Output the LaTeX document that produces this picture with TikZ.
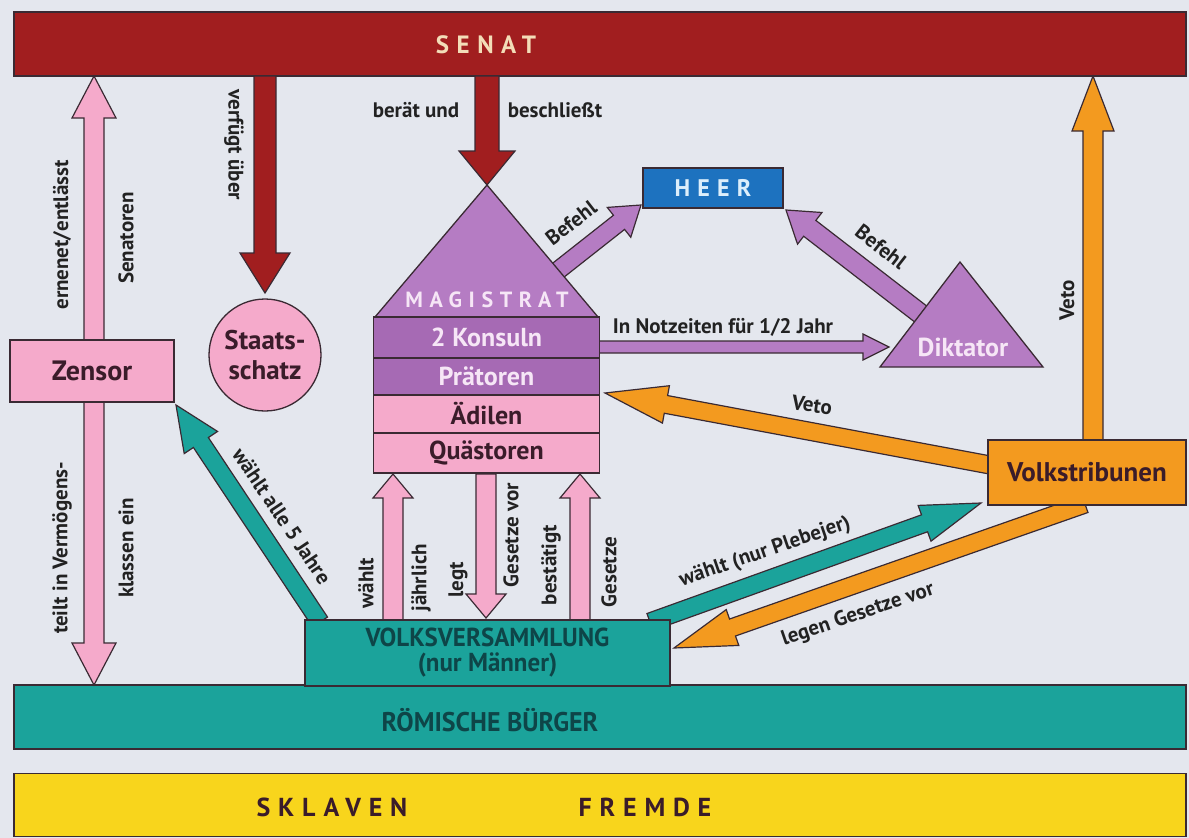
\documentclass[tikz,border=0pt]{standalone}
\usepackage{fontspec}
\setmainfont{PT Sans}
\newfontfamily\spaced[LetterSpace=30]{PT Sans}
\newfontfamily\condensed[FakeStretch=0.96]{PT Sans}
\usetikzlibrary{calc}
\definecolor{bgcol}{HTML}{E4E7EE}
\definecolor{senatred}{HTML}{A11E1F}
\definecolor{senattext}{HTML}{F3DDB8}
\definecolor{pinkfill}{HTML}{F5AACB}
\definecolor{purpfill}{HTML}{B57CC3}
\definecolor{purpdark}{HTML}{A66AB4}
\definecolor{lighttext}{HTML}{F6E6F6}
\definecolor{tealfill}{HTML}{1BA39B}
\definecolor{tealtext}{HTML}{0E4548}
\definecolor{orangefill}{HTML}{F39A1F}
\definecolor{bluefill}{HTML}{1D72BF}
\definecolor{heertext}{HTML}{DCEEFB}
\definecolor{yellowfill}{HTML}{F8D51C}
\definecolor{edge}{HTML}{3A2A33}
\definecolor{labeltext}{HTML}{222222}
\definecolor{darktext}{HTML}{3A1C2A}
\newcommand\fsz[2]{\fontsize{#1}{#2}\selectfont}
% block arrow: [style]{from}{to}{shaft half}{head half}{head length}
\newcommand\blockarrow[6][]{%
  \coordinate (ba-s) at (#2);
  \coordinate (ba-e) at (#3);
  \coordinate (ba-h) at ($(ba-e)!#6!(ba-s)$);
  \draw[arr,#1] ($(ba-s)!#4!90:(ba-e)$) -- ($(ba-h)!#4!-90:(ba-s)$) -- ($(ba-h)!#5!-90:(ba-s)$) -- (ba-e) -- ($(ba-h)!#5!90:(ba-s)$) -- ($(ba-h)!#4!90:(ba-s)$) -- ($(ba-s)!#4!-90:(ba-e)$) -- cycle;
}
\newcommand\dblarrow[6][]{%
  \coordinate (da-s) at (#2);
  \coordinate (da-e) at (#3);
  \coordinate (da-h1) at ($(da-s)!#6!(da-e)$);
  \coordinate (da-h2) at ($(da-e)!#6!(da-s)$);
  \draw[arr,#1] (da-s) -- ($(da-h1)!#5!90:(da-e)$) -- ($(da-h1)!#4!90:(da-e)$) -- ($(da-h2)!#4!-90:(da-s)$) -- ($(da-h2)!#5!-90:(da-s)$) -- (da-e) -- ($(da-h2)!#5!90:(da-s)$) -- ($(da-h2)!#4!90:(da-s)$) -- ($(da-h1)!#4!-90:(da-e)$) -- ($(da-h1)!#5!-90:(da-e)$) -- cycle;
}
\begin{document}
\begin{tikzpicture}[x=1pt,y=-1pt,
  arr/.style={draw=edge, line width=1.2pt, line join=miter},
  rectbox/.style={draw=edge, line width=1.3pt, inner sep=0pt, outer sep=0pt},
  lbl/.style={font=\bfseries\fsz{21}{23}, text=labeltext, inner sep=0pt},
  row/.style={rectbox, minimum width=226pt, font=\bfseries\fsz{26}{28}}
]
\useasboundingbox (0,0) rectangle (1189,838);
\fill[bgcol] (0,0) rectangle (1189,838);

% big bars
\node[rectbox, fill=senatred, minimum width=1172pt, minimum height=64pt] (senat) at (600,44) {};
\node[font=\spaced\bfseries\fsz{25}{27}, text=senattext, inner sep=0pt] (senatlabel) at (486,45) {SENAT};
\node[rectbox, fill=tealfill, minimum width=1172pt, minimum height=64pt] (buerger) at (600,717) {};
\node[font=\condensed\bfseries\fsz{27}{29}, text=tealtext, inner sep=0pt] (buergerlabel) at (490,720) {RÖMISCHE BÜRGER};
\node[rectbox, fill=yellowfill, minimum width=1172pt, minimum height=63pt] (sklavenbar) at (600,805) {};
\node[font=\spaced\bfseries\fsz{26}{28}, text=darktext, inner sep=0pt] (sklaven) at (332,807) {SKLAVEN};
\node[font=\spaced\bfseries\fsz{26}{28}, text=darktext, inner sep=0pt] (fremde) at (645,807) {FREMDE};

% positions of boxes (coordinates used by arrows)
\coordinate (magapex) at (487,185);
\coordinate (dikapex) at (960,262);

% arrows
\dblarrow[fill=pinkfill]{senat.south -| 94,0}{buerger.north -| 94,0}{10pt}{22pt}{42pt}
\blockarrow[fill=senatred]{senat.south -| 265,0}{265,293}{11pt}{25pt}{40pt}
\blockarrow[fill=senatred]{senat.south -| magapex}{magapex}{12pt}{28pt}{34pt}
\blockarrow[fill=purpfill]{556,272}{641,205}{9pt}{19pt}{28pt}
\blockarrow[fill=purpfill]{922,315}{786,210}{10pt}{20pt}{30pt}
\blockarrow[fill=purpfill]{590,347}{889,347}{6pt}{13pt}{26pt}
\blockarrow[fill=orangefill]{1093,442}{senat.south -| 1093,0}{10pt}{21pt}{55pt}
\blockarrow[fill=orangefill]{990,465}{605,393}{9pt}{19pt}{62pt}
\blockarrow[fill=tealfill]{650,622}{981,503}{9pt}{19pt}{60pt}
\blockarrow[fill=orangefill]{1085,504}{674,648}{9pt}{19pt}{62pt}
\blockarrow[fill=tealfill]{320,622}{176,405}{9pt}{20pt}{45pt}
\blockarrow[fill=pinkfill]{393,622}{393,474}{10pt}{20pt}{24pt}
\blockarrow[fill=pinkfill]{486,474}{486,618}{10pt}{20pt}{24pt}
\blockarrow[fill=pinkfill]{580,622}{580,474}{10pt}{20pt}{24pt}

% boxes
\node[rectbox, fill=pinkfill, minimum width=164pt, minimum height=62pt, text=darktext, font=\bfseries\fsz{28}{30}] (zensor) at (92,371) {Zensor};
\node[circle, draw=edge, line width=1.3pt, fill=pinkfill, minimum size=112pt, inner sep=0pt, text=darktext, font=\bfseries\fsz{27}{30}, align=center] (schatz) at (265,355) {Staats-\\schatz};

\filldraw[fill=purpfill, draw=edge, line width=1.3pt, line join=miter] (magapex) -- (598,317) -- (375,317) -- cycle;
\node[font=\spaced\bfseries\fsz{22}{24}, text=lighttext, inner sep=0pt] (magistrat) at (487,300) {MAGISTRAT};
\node[row, fill=purpdark, minimum height=41pt, text=lighttext] (konsuln) at (486.5,337.5) {2 Konsuln};
\node[row, fill=purpdark, minimum height=37pt, text=lighttext] (praetoren) at (486.5,376.5) {Prätoren};
\node[row, fill=pinkfill, minimum height=38pt, text=darktext] (aedilen) at (486.5,414) {Ädilen};
\node[row, fill=pinkfill, minimum height=40pt, text=darktext] (quaestoren) at (486.5,453) {Quästoren};

\node[rectbox, fill=bluefill, minimum width=140pt, minimum height=40pt, text=heertext, font=\spaced\bfseries\fsz{24}{26}] (heer) at (713,188) {HEER};

\filldraw[fill=purpfill, draw=edge, line width=1.3pt, line join=miter] (dikapex) -- (1043,367) -- (880,367) -- cycle;
\node[text=lighttext, font=\bfseries\fsz{26}{28}, inner sep=0pt] (diktator) at (963,347) {Diktator};

\node[rectbox, fill=orangefill, minimum width=198pt, minimum height=65pt, text=darktext, font=\bfseries\fsz{27}{29}] (tribunen) at (1087,472.5) {Volkstribunen};
\node[rectbox, fill=tealfill, minimum width=365pt, minimum height=66pt, text=tealtext, font=\condensed\bfseries\fsz{26}{25}, align=center] (versammlung) at (487.5,653) {VOLKSVERSAMMLUNG\\(nur Männer)};

% labels
\node[lbl, rotate=90] (l1) at (62,235) {ernenet/entlässt};
\node[lbl, rotate=90] (l2) at (126,238) {Senatoren};
\node[lbl, rotate=90] (l3) at (62,548) {teilt in Vermögens-};
\node[lbl, rotate=90] (l4) at (126,548) {klassen ein};
\node[lbl, rotate=-90] (l5) at (234,145) {verfügt über};
\node[lbl] (l6) at (416,110) {berät und};
\node[lbl] (l7) at (555,110) {beschließt};
\node[lbl, rotate=38] (l8) at (571,223) {Befehl};
\node[lbl, rotate=-38] (l9) at (881,247) {Befehl};
\node[lbl] (l10) at (723,327) {In Notzeiten für 1/2 Jahr};
\node[lbl, rotate=90] (l11) at (1067,300) {Veto};
\node[lbl, rotate=-8] (l12) at (812,405) {Veto};
\node[lbl, rotate=19] (l13) at (765,552) {wählt (nur Plebejer)};
\node[lbl, rotate=19] (l14) at (858,615) {legen Gesetze vor};
\node[lbl, rotate=-56] (l15) at (282,516) {wählt alle 5 Jahre};
\node[lbl, rotate=90] (l16) at (366,583) {wählt};
\node[lbl, rotate=90] (l17) at (421,578) {jährlich};
\node[lbl, rotate=90] (l18) at (458,580) {legt};
\node[lbl, rotate=90] (l19) at (511,535) {Gesetze vor};
\node[lbl, rotate=90] (l20) at (551,565) {bestätigt};
\node[lbl, rotate=90] (l21) at (609,572) {Gesetze};
\end{tikzpicture}
\end{document}
